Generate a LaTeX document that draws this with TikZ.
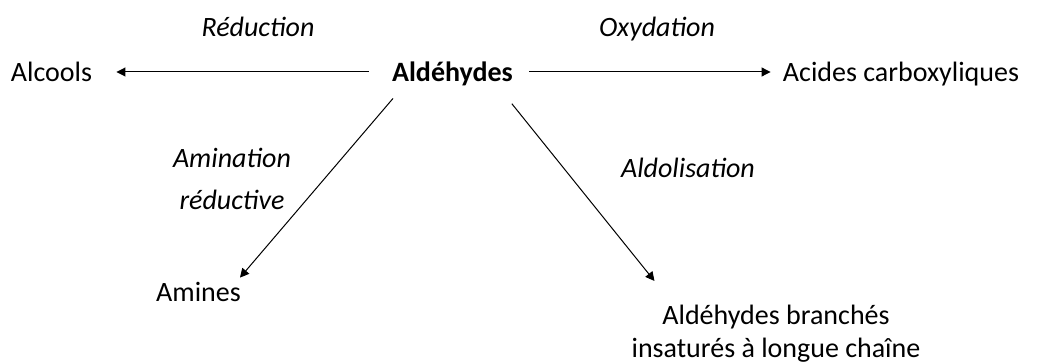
\documentclass[tikz,border=0pt]{standalone}
\usepackage{fontspec}
\setmainfont{Carlito}
\usetikzlibrary{arrows.meta,positioning}

\begin{document}
\begin{tikzpicture}[x=0.5pt, y=-0.5pt,
    chem/.style={inner sep=0pt, text height=11pt, text depth=1pt, anchor=base, font=\fontsize{14}{16.5}\selectfont},
    label/.style={inner sep=0pt, align=center, font=\fontsize{14}{16.5}\selectfont\itshape},
    arrow/.style={-{Triangle[length=4.5pt,width=4.5pt]}, line width=0.5pt}
]
\useasboundingbox (0,0) rectangle (1041,363);

% Compounds
\node[chem, font=\fontsize{14}{16.5}\selectfont\bfseries] (ald) at (452.5, 82) {Aldéhydes};
\node[chem] (alc) at (51.5, 82) {Alcools};
\node[chem] (acid) at (901, 82) {Acides carboxyliques};
\node[chem] (amines) at (198.5, 302) {Amines};
\node[inner sep=0pt, align=center, font=\fontsize{14}{16.5}\selectfont] (branch) at (776, 334) {Aldéhydes branchés\\insaturés à longue chaîne};

% Reactions
\node[label, anchor=base] (red) at (258, 37) {Réduction};
\node[label, anchor=base] (oxy) at (657, 37) {Oxydation};
\node[label] (amin) at (232, 179) {Amination\\[4.5pt]réductive};
\node[label, anchor=base] (aldol) at (688, 178) {Aldolisation};

% Arrows
\draw[arrow, shorten <=11.5pt, shorten >=12pt] (ald.west) -- (alc.east);
\draw[arrow, shorten <=8pt, shorten >=6pt] (ald.east) -- (acid.west);
\draw[arrow, shorten <=9.2pt, shorten >=1.3pt] ([xshift=-23.75pt]ald.south) -- ([xshift=19.9pt]amines.north);
\draw[arrow, shorten <=12.4pt, shorten >=15.4pt] ([xshift=21.9pt]ald.south) -- ([xshift=-51.1pt]branch.north);

\end{tikzpicture}
\end{document}
